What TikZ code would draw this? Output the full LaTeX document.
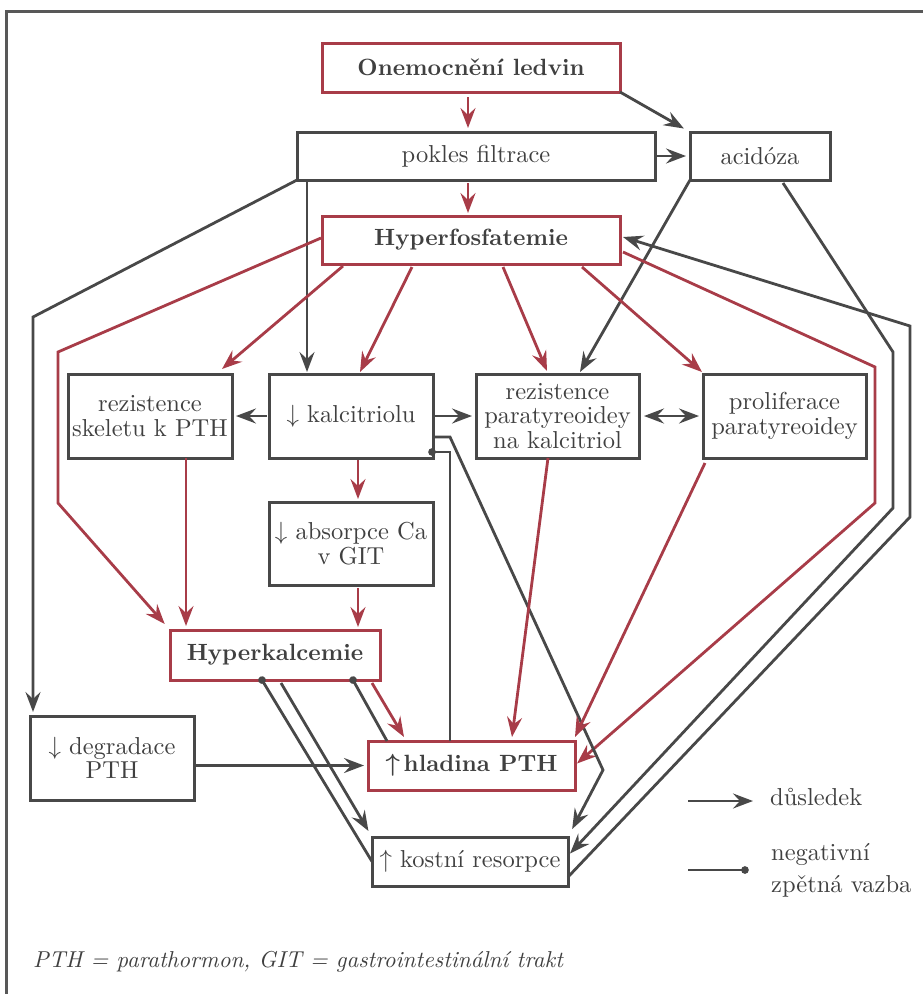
\documentclass[tikz,border=0pt]{standalone}
\usepackage{amsmath}
\usepackage{fontspec}
\setmainfont{lmroman10-regular.otf}[BoldFont=lmroman10-bold.otf, ItalicFont=lmroman10-italic.otf]
\usetikzlibrary{arrows.meta}
\definecolor{rd}{RGB}{168,60,72}
\definecolor{dk}{RGB}{72,72,72}
\definecolor{txt}{RGB}{64,64,64}
\definecolor{frm}{RGB}{88,88,88}
\begin{document}
\begin{tikzpicture}[x=1pt,y=-1pt,line join=miter,
  box/.style={draw=dk, line width=3pt, fill=white, text=txt, inner sep=0pt, outer sep=0pt, align=center,
    font=\fontsize{24.5}{24.5}\selectfont},
  rbox/.style={box, draw=rd, font=\fontsize{23.5}{24}\selectfont\bfseries},
  dkline/.style={draw=dk, line width=2.8pt},
  rdline/.style={draw=rd, line width=2.8pt},
  arr/.style={-{Stealth[length=20pt,width=15pt,inset=7pt]}},
  dblarr/.style={{Stealth[length=20pt,width=15pt,inset=7pt]}-{Stealth[length=20pt,width=15pt,inset=7pt]}},
  dotend/.style={-{Circle[length=7.5pt,width=7.5pt]}, shorten >=-3.7pt},
  legtxt/.style={text=txt, inner sep=0pt, font=\fontsize{24.5}{24.5}\selectfont}
  ]
\useasboundingbox (0,0) rectangle (923,994);
\draw[draw=frm, line width=3pt] (6,994) -- (6,11) -- (923,11);

% nodes
\node[rbox, minimum width=298pt, minimum height=49pt] (onem) at (471,67.5) {Onemocnění ledvin};
\node[box, minimum width=358pt, minimum height=48pt] (pokles) at (476,156) {pokles filtrace};
\node[box, minimum width=140pt, minimum height=48pt] (acid) at (760,156) {acidóza};
\node[rbox, minimum width=298pt, minimum height=48pt] (hyperf) at (471,240) {Hyperfosfatemie};
\node[box, minimum width=164pt, minimum height=84pt] (skelet) at (150,416) {rezistence\\skeletu k PTH};
\node[box, minimum width=164pt, minimum height=84pt] (kalc) at (351,416) {$\downarrow$ kalcitriolu};
\node[box, minimum width=163pt, minimum height=84pt] (rezpar) at (557.5,416) {rezistence\\paratyreoidey\\na kalcitriol};
\node[box, minimum width=163pt, minimum height=84pt] (prolif) at (784.5,416) {proliferace\\paratyreoidey};
\node[box, minimum width=164pt, minimum height=83pt] (absor) at (351,543.5) {$\downarrow$ absorpce Ca\\v GIT};
\node[rbox, minimum width=210pt, minimum height=50pt] (hyperk) at (275,655) {Hyperkalcemie};
\node[box, minimum width=164pt, minimum height=84pt] (degrad) at (112,758) {$\downarrow$ degradace\\PTH};
\node[rbox, minimum width=207pt, minimum height=49pt] (hlad) at (471.5,765.5) {$\boldsymbol{\uparrow}$\,hladina PTH};
\node[box, minimum width=196pt, minimum height=49pt] (kostni) at (470,861.5) {$\uparrow$ kostní resorpce};

% bend coordinates
\coordinate (c1) at (33,317);
\coordinate (c2) at (893,352);
\coordinate (c3) at (893,508);
\coordinate (c4) at (910,517);
\coordinate (c5) at (910,326);
\coordinate (c6) at (875,367);
\coordinate (c7) at (875,503);
\coordinate (c8) at (58,352);
\coordinate (c9) at (58,503);
\coordinate (c10) at (603,770);

% top
\draw[rdline,arr] ([xshift=-3pt,yshift=-5pt]onem.south) -- ([xshift=-8pt,yshift=4pt]pokles.north);
\draw[rdline,arr] ([xshift=-8pt,yshift=-3pt]pokles.south) -- ([xshift=-3pt,yshift=3pt]hyperf.north);
\draw[dkline,arr,shorten >=7pt] (onem.south east) -- (acid.north west);
\draw[dkline,arr] (pokles.east) -- ([xshift=-4pt]acid.west);
\draw[dkline,arr] (pokles.south west) -- (c1) -- ([xshift=3pt,yshift=4pt]degrad.north west);
\draw[dkline,arr] ([xshift=10pt]pokles.south west) -- ([xshift=-44pt,yshift=2pt]kalc.north);
\draw[dkline,arr] (acid.south west) -- ([xshift=22.5pt,yshift=2pt]rezpar.north);
\draw[dkline,arr] ([xshift=23pt,yshift=-3pt]acid.south) -- (c2) -- (c3) -- ([xshift=2pt,yshift=8pt]kostni.east);
\draw[dkline,arr] ([yshift=9pt]kostni.south east) -- (c4) -- (c5) -- ([xshift=3pt,yshift=3pt]hyperf.east);

% from Hyperfosfatemie
\draw[rdline,arr] ([xshift=3pt,yshift=-12pt]hyperf.east) -- (c6) -- (c7) -- ([xshift=2pt,yshift=2pt]hlad.east);
\draw[rdline,arr,shorten >=8pt] ([xshift=-1pt,yshift=2pt]hyperf.west) -- (c8) -- (c9) -- (hyperk.north west);
\draw[rdline,arr] ([xshift=-128pt,yshift=-2pt]hyperf.south) -- ([xshift=-10pt,yshift=5pt]skelet.north east);
\draw[rdline,arr] ([xshift=-59pt,yshift=-3pt]hyperf.south) -- ([xshift=9pt,yshift=2pt]kalc.north);
\draw[rdline,arr] ([xshift=32pt,yshift=-3pt]hyperf.south) -- ([xshift=-10.5pt,yshift=3pt]rezpar.north);
\draw[rdline,arr] ([xshift=111pt,yshift=-3pt]hyperf.south) -- ([xshift=-1pt,yshift=2pt]prolif.north west);

% middle row
\draw[dkline,arr] ([xshift=-2pt]kalc.west) -- ([xshift=4pt]skelet.east);
\draw[dkline,arr] (kalc.east) -- ([xshift=-4pt]rezpar.west);
\draw[dkline,dblarr] ([xshift=5pt]rezpar.east) -- ([xshift=-4pt]prolif.west);
\draw[rdline,arr] ([xshift=36pt]skelet.south) -- ([xshift=-89pt,yshift=4pt]hyperk.north);
\draw[rdline,arr] ([xshift=7pt,yshift=-2pt]kalc.south) -- ([xshift=7pt,yshift=3pt]absor.north);
\draw[rdline,arr] ([xshift=7pt,yshift=-3pt]absor.south) -- ([xshift=83pt,yshift=3pt]hyperk.north);
\draw[dkline,arr,shorten >=9pt] ([yshift=-21pt]kalc.east) -- ++(17,0) -- (c10) -- (kostni.north east);
\draw[dkline,dotend] ([xshift=-21.5pt]hlad.north) |- ([xshift=-1pt,yshift=6pt]kalc.south east);
\draw[rdline,arr] ([xshift=-9.5pt]rezpar.south) -- ([xshift=40.5pt,yshift=4pt]hlad.north);
\draw[rdline,arr] ([xshift=2pt,yshift=-5pt]prolif.south west) -- ([yshift=4pt]hlad.north east);

% bottom
\draw[dkline,dotend] (kostni.west) -- ([xshift=-13pt]hyperk.south);
\draw[dkline,arr,shorten >=7pt] ([xshift=6pt,yshift=-3pt]hyperk.south) -- (kostni.north west);
\draw[dkline,dotend] ([xshift=19pt]hlad.north west) -- ([xshift=78pt]hyperk.south);
\draw[rdline,arr] ([xshift=-8pt,yshift=-3pt]hyperk.south east) -- ([xshift=36pt,yshift=4pt]hlad.north west);
\draw[dkline,arr] (degrad.east |- hlad.west) -- ([xshift=-4pt]hlad.west);

% legend
\coordinate (l1a) at (688,801);
\coordinate (l1b) at (753,801);
\draw[dkline,arr] (l1a) -- (l1b);
\node[legtxt, anchor=base west] (ldus) at (770,805) {důsledek};
\coordinate (l2a) at (688,870);
\coordinate (l2b) at (745,870);
\draw[dkline,dotend] (l2a) -- (l2b);
\node[legtxt, anchor=base west] (lneg1) at (771,860) {negativní};
\node[legtxt, anchor=base west] (lneg2) at (771,892) {zpětná vazba};

% footnote
\node[anchor=base west, inner sep=0pt, text=txt, font=\fontsize{23}{24}\selectfont\itshape] (foot) at (33,967) {PTH = parathormon, GIT = gastrointestinální trakt};
\end{tikzpicture}
\end{document}
